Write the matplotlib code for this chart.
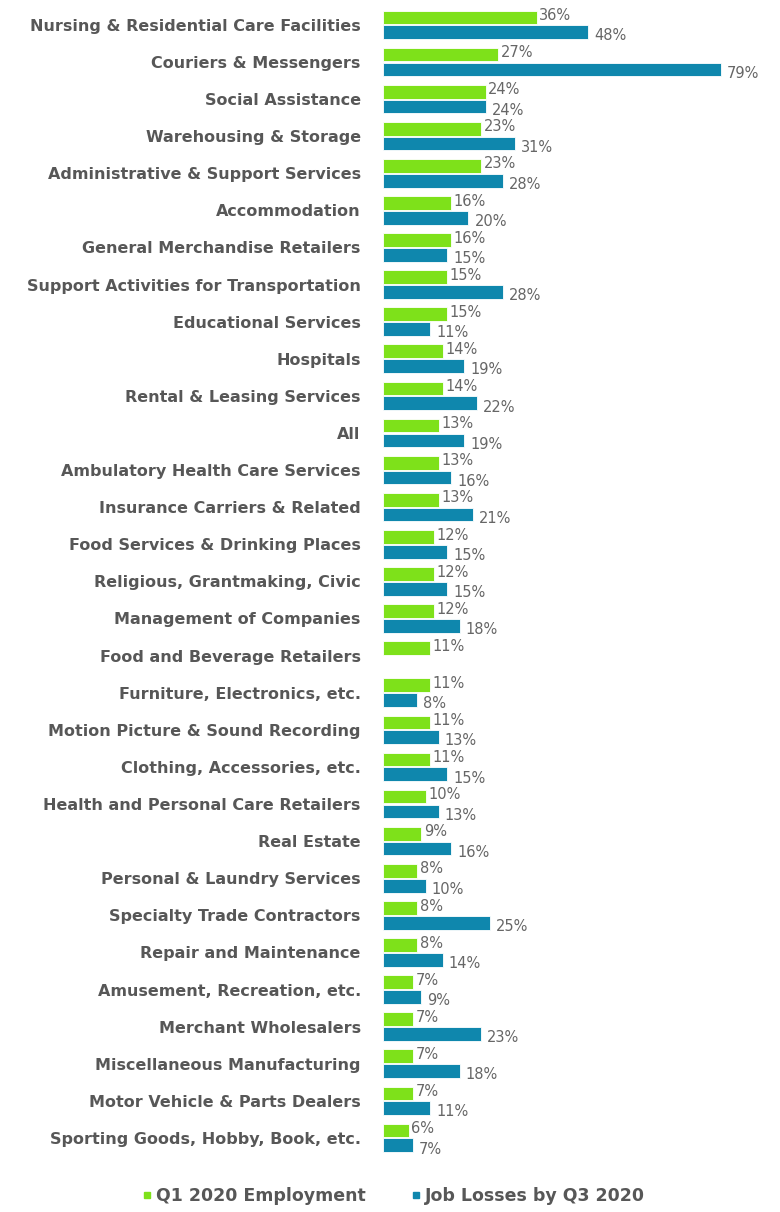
import matplotlib.pyplot as plt
import numpy as np

industries = [
    "Nursing & Residential Care Facilities", "Couriers & Messengers", "Social Assistance",
    "Warehousing & Storage", "Administrative & Support Services", "Accommodation",
    "General Merchandise Retailers", "Support Activities for Transportation",
    "Educational Services", "Hospitals", "Rental & Leasing Services", "All",
    "Ambulatory Health Care Services", "Insurance Carriers & Related",
    "Food Services & Drinking Places", "Religious, Grantmaking, Civic",
    "Management of Companies", "Food and Beverage Retailers", "Furniture, Electronics, etc.",
    "Motion Picture & Sound Recording", "Clothing, Accessories, etc.",
    "Health and Personal Care Retailers", "Real Estate", "Personal & Laundry Services",
    "Specialty Trade Contractors", "Repair and Maintenance", "Amusement, Recreation, etc.",
    "Merchant Wholesalers", "Miscellaneous Manufacturing", "Motor Vehicle & Parts Dealers",
    "Sporting Goods, Hobby, Book, etc.",
]
q1_employment = [36, 27, 24, 23, 23, 16, 16, 15, 15, 14, 14, 13, 13, 13, 12, 12,
                 12, 11, 11, 11, 11, 10, 9, 8, 8, 8, 7, 7, 7, 7, 6]
job_losses = [48, 79, 24, 31, 28, 20, 15, 28, 11, 19, 22, 19, 16, 21, 15, 15,
              18, np.nan, 8, 13, 15, 13, 16, 10, 25, 14, 9, 23, 18, 11, 7]

green = "#7ee11a"
blue = "#0f87ad"
label_grey = "#666666"
text_grey = "#575757"

fig = plt.figure(figsize=(7.8, 12.12), dpi=100)
ax = fig.add_axes([0.491, 0.0458, 0.493, 0.949])

y = np.arange(len(industries))
h = 0.37
ax.barh(y - 0.2, q1_employment, height=h, color=green, edgecolor="white", linewidth=0.6)
ax.barh(y + 0.2, job_losses, height=h, color=blue, edgecolor="white", linewidth=0.6)

for i, (g, b) in enumerate(zip(q1_employment, job_losses)):
    ax.text(g + 0.6, i - 0.25, f"{g}%", va="center", ha="left",
            fontsize=10.5, color=label_grey)
    if not np.isnan(b):
        ax.text(b + 1.4, i + 0.3, f"{int(b)}%", va="center", ha="left",
                fontsize=10.5, color=label_grey)

ax.set_xlim(0, 90)
ax.set_ylim(len(industries) - 0.5, -0.5)
ax.set_yticks(y)
ax.set_yticklabels(industries, fontsize=11.5, color=text_grey, fontweight="bold")
ax.tick_params(axis="y", length=0, pad=16)
ax.set_xticks([])
for s in ax.spines.values():
    s.set_visible(False)

handles = [plt.Line2D([], [], marker="s", linestyle="", color=green, markersize=4),
           plt.Line2D([], [], marker="s", linestyle="", color=blue, markersize=4)]
fig.legend(handles, ["Q1 2020 Employment", "Job Losses by Q3 2020"],
           loc="center", bbox_to_anchor=(0.503, 0.013), ncol=2, frameon=False,
           handletextpad=0.1, columnspacing=2.5, handlelength=0.8,
           labelcolor=text_grey, prop={"weight": "bold", "size": 12.5})

fig.savefig("out.png", dpi=100, facecolor="white")
